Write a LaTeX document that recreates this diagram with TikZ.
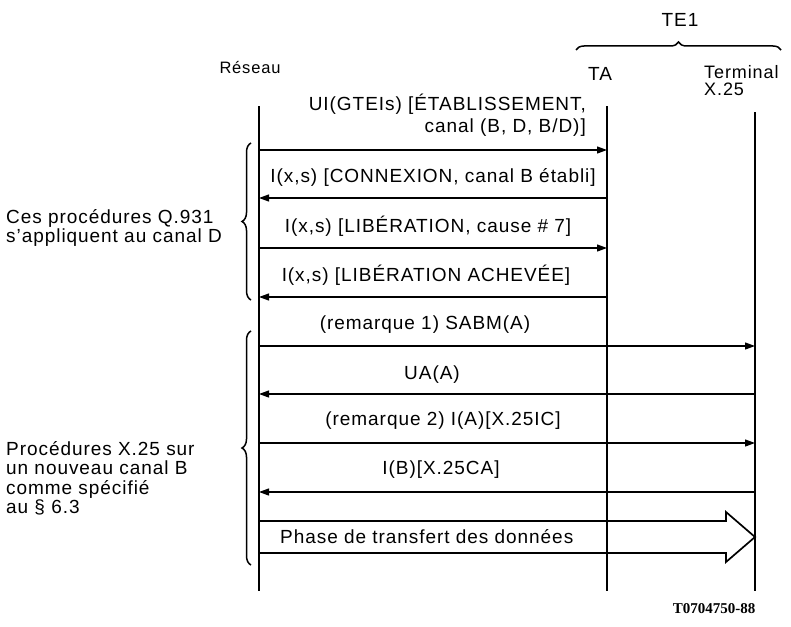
\documentclass[tikz,border=0pt]{standalone}
\usepackage{fontspec}
\setmainfont{Liberation Sans}[LetterSpace=5]
\newfontfamily\reffont{Liberation Serif}
\usetikzlibrary{arrows.meta,decorations.pathreplacing}

\begin{document}
\begin{tikzpicture}[x=1pt,y=-1pt,
    every node/.style={inner sep=0pt, align=center},
    lbl/.style={font=\fontsize{19}{22}\selectfont},
    side/.style={font=\fontsize{19}{19.5}\selectfont, align=left},
    life/.style={line width=1.4pt},
    msg/.style={line width=1.2pt, -{Triangle[length=10pt,width=7pt]}},
    curly/.style={decorate, decoration={brace, amplitude=9pt}, line width=1.5pt}]

  \useasboundingbox (0,0) rectangle (791,626);

  % ── Entities and lifelines ─────────────────────────────────
  \node[font=\fontsize{16.5}{18}\selectfont] (reseau) at (250,68) {Réseau};
  \node[lbl] (ta) at (600,74) {TA};
  \node[lbl, anchor=north west, align=left, font=\fontsize{18}{17}\selectfont]
    (term) at (704,65) {Terminal\\X.25};
  \node[lbl] (te) at (680,20) {TE1};
  \draw[curly, decoration={amplitude=8pt}] (576,50) -- (781,50);

  \coordinate (rtop) at (259,106);  \coordinate (rbot) at (259,591);
  \coordinate (atop) at (607,106);  \coordinate (abot) at (607,591);
  \coordinate (ttop) at (755,112);  \coordinate (tbot) at (755,591);
  \draw[life] (rtop) -- (rbot);
  \draw[life] (atop) -- (abot);
  \draw[life] (ttop) -- (tbot);

  % ── Q.931 exchange, Réseau <-> TA ──────────────────────────
  \coordinate (r1) at (259,150);  \coordinate (a1) at (607,150);
  \node[lbl, anchor=east, align=right] (m1) at (586,115)
    {UI(GTEIs) [ÉTABLISSEMENT,\\canal (B, D, B/D)]};
  \draw[msg] (r1) -- (a1);

  \coordinate (r2) at (259,198);  \coordinate (a2) at (607,198);
  \node[lbl] (m2) at (433,177) {I(x,s) [CONNEXION, canal B établi]};
  \draw[msg] (a2) -- (r2);

  \coordinate (r3) at (259,248);  \coordinate (a3) at (607,248);
  \node[lbl] (m3) at (428,226) {I(x,s) [LIBÉRATION, cause \# 7]};
  \draw[msg] (r3) -- (a3);

  \coordinate (r4) at (259,297);  \coordinate (a4) at (607,297);
  \node[lbl] (m4) at (426,275) {I(x,s) [LIBÉRATION ACHEVÉE]};
  \draw[msg] (a4) -- (r4);

  \draw[curly] (251,300) -- (251,143);
  \node[side, anchor=west] (q931) at (6,228)
    {Ces procédures Q.931\\s’appliquent au canal D};

  % ── X.25 exchange, Réseau <-> Terminal ─────────────────────
  \coordinate (r5) at (259,346);  \coordinate (t5) at (755,346);
  \node[lbl] (m5) at (425,325) {(remarque 1) SABM(A)};
  \draw[msg] (r5) -- (t5);

  \coordinate (r6) at (259,394);  \coordinate (t6) at (755,394);
  \node[lbl] (m6) at (432,375) {UA(A)};
  \draw[msg] (t6) -- (r6);

  \coordinate (r7) at (259,443);  \coordinate (t7) at (755,443);
  \node[lbl] (m7) at (443,421) {(remarque 2) I(A)[X.25IC]};
  \draw[msg] (r7) -- (t7);

  \coordinate (r8) at (259,492);  \coordinate (t8) at (755,492);
  \node[lbl] (m8) at (441,470) {I(B)[X.25CA]};
  \draw[msg] (t8) -- (r8);

  % ── Data transfer phase (block arrow) ──────────────────────
  \draw[line width=1.7pt, line join=miter]
    (259,521) -- (726,521) -- (726,512) -- (755,537)
    -- (726,562) -- (726,553) -- (259,553);
  \node[lbl, anchor=west] (phase) at (280,537) {Phase de transfert des données};

  \draw[curly] (251,565) -- (251,331);
  \node[side, anchor=north west] (x25) at (6,441)
    {Procédures X.25 sur\\un nouveau canal B\\comme spécifié\\au § 6.3};

  % ── Figure reference ───────────────────────────────────────
  \node[font=\reffont\bfseries\fontsize{15}{17}\selectfont] (fig) at (714,609) {T0704750-88};

\end{tikzpicture}
\end{document}
